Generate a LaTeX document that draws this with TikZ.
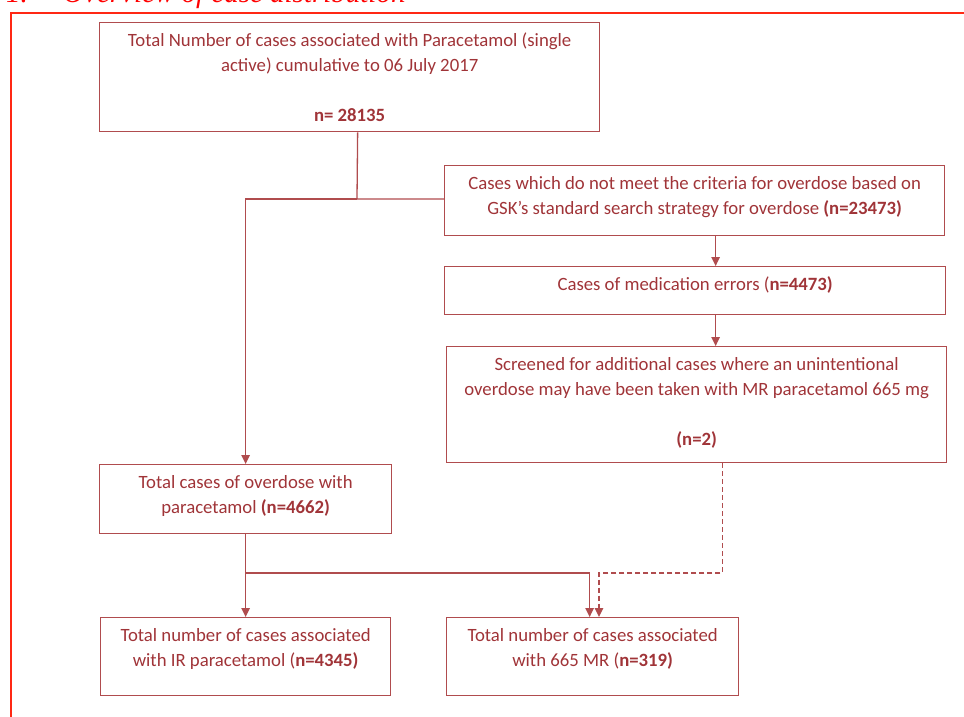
\documentclass[tikz,border=0pt]{standalone}
\usepackage{fontspec}
\setmainfont{Carlito}
\newfontfamily\headfont{Liberation Serif}
\usetikzlibrary{arrows.meta}
\definecolor{txtred}{RGB}{160,52,56}
\definecolor{linered}{RGB}{176,76,78}
\definecolor{framered}{RGB}{255,40,20}
\newcommand{\cellbox}[3]{\parbox[c][#2][t]{#1}{\centering\rule{0pt}{24pt}#3}}

\begin{document}
\begin{tikzpicture}[x=1pt, y=-1pt, >={Triangle[length=9pt,width=8.5pt]},
	cell/.style={draw=linered, line width=1.3pt, text=txtred, inner sep=0pt, anchor=north west, font=\fontsize{18.75}{25}\selectfont},
	link/.style={linered, line width=1.3pt},
	heading/.style={anchor=base west, text=red, inner sep=0pt, font=\headfont\itshape\fontsize{29}{34}\selectfont}]
	\useasboundingbox (0,0) rectangle (964,716);
	\node[heading] (num) at (6,2) {1.};
	\node[heading] (head) at (63,2) {Overview of case distribution};
	\draw[framered, line width=2.5pt] (11,720) -- (11,13) -- (970,13);
	\node[cell] (total) at (99,22) {\cellbox{500pt}{109pt}{Total Number of cases associated with Paracetamol (single\\ active) cumulative to 06 July 2017\\ ~\\ \textbf{n= 28135}}};
	\node[cell] (crit) at (444,165) {\cellbox{500pt}{70pt}{Cases which do not meet the criteria for overdose based on\\ GSK’s standard search strategy for overdose \textbf{(n=23473)}}};
	\node[cell] (meds) at (444,266) {\cellbox{501pt}{48pt}{Cases of medication errors (\textbf{n=4473)}}};
	\node[cell] (screen) at (446,346) {\cellbox{500pt}{116pt}{Screened for additional cases where an unintentional\\ overdose may have been taken with MR paracetamol 665 mg\\ ~\\ \textbf{(n=2)}}};
	\node[cell] (over) at (99,464) {\cellbox{292pt}{69pt}{Total cases of overdose with\\ paracetamol \textbf{(n=4662)}}};
	\node[cell] (ir) at (100,617) {\cellbox{290pt}{78pt}{Total number of cases associated\\ with IR paracetamol (\textbf{n=4345)}}};
	\node[cell] (mr) at (446,617) {\cellbox{292pt}{78pt}{Total number of cases associated\\ with 665 MR (\textbf{n=319)}}};
	\coordinate (fork) at (357,199);
	\coordinate (join) at (245,573);
	\coordinate (dashbend) at (599,573);
	\draw[link] ([xshift=8pt]total.south) -- (fork) -- (crit.west |- fork);
	\draw[link, ->] (fork) -| (over.north);
	\draw[link, ->] ([xshift=21pt]crit.south) -- ([xshift=21pt]crit.south |- meds.north);
	\draw[link, ->] ([xshift=19pt]screen.north |- meds.south) -- ([xshift=19pt]screen.north);
	\draw[link, ->] (over.south) -- (ir.north);
	\draw[link, ->] (join) -| ([xshift=-3pt]mr.north);
	\draw[link, ->, dash pattern=on 5pt off 3pt] ([xshift=26pt]screen.south) |- (dashbend) -- (dashbend |- mr.north);
\end{tikzpicture}
\end{document}
